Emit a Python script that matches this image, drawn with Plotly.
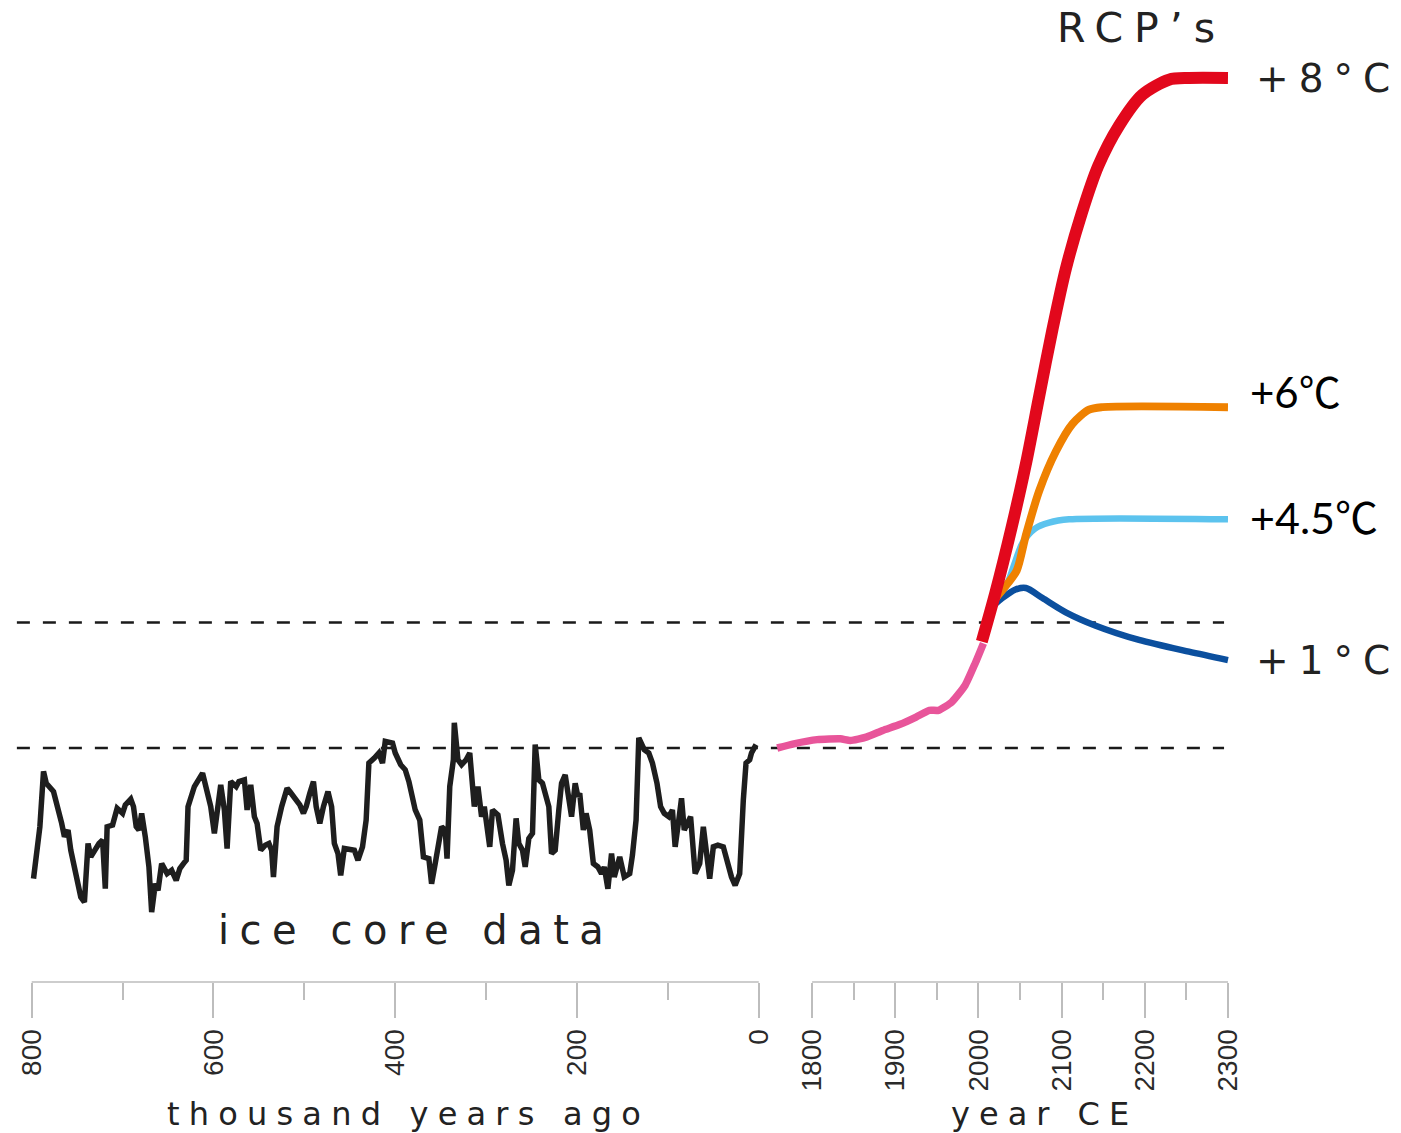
import plotly.graph_objects as go

# ---------------- data ----------------
# ice core record: thousand years ago, temperature anomaly (deg C, relative to pre-industrial)
ice_kyr = [798, 791, 787, 784, 776, 771, 767, 764, 760, 757,
           751, 746, 742, 738, 735, 731, 726, 722, 719, 717,
           711, 706, 700, 697, 691, 688, 685, 682, 679, 675,
           671, 668, 664, 661, 657, 651, 646, 641, 637, 633,
           630, 628, 621, 612, 606, 603, 599, 595, 592, 588,
           585, 581, 575, 572, 566, 563, 559, 555, 552, 548,
           543, 539, 536, 534, 530, 525, 519, 516, 510, 505,
           501, 498, 494, 490, 487, 483, 479, 474, 470, 467,
           463, 460, 456, 450, 445, 441, 436, 432, 429, 423,
           418, 414, 411, 403, 400, 394, 389, 385, 382, 378,
           373, 369, 363, 360, 356, 353, 349, 345, 343, 340,
           336, 335, 331, 327, 322, 318, 316, 313, 309, 305,
           302, 296, 293, 287, 282, 278, 275, 271, 267, 264,
           260, 257, 253, 249, 246, 242, 238, 235, 231, 228,
           224, 220, 217, 213, 210, 206, 202, 199, 197, 193,
           190, 186, 182, 177, 173, 170, 166, 162, 159, 153,
           148, 142, 139, 135, 132, 126, 121, 117, 112, 108,
           104, 99, 95, 92, 88, 85, 82, 75, 70, 65,
           61, 57, 54, 50, 45, 39, 34, 30, 26, 21,
           17, 14, 10, 8, 3]
ice_temp = [-1.56, -0.94, -0.28, -0.42, -0.52, -0.70, -0.90, -1.06, -0.98, -1.22,
            -1.54, -1.78, -1.84, -1.14, -1.30, -1.22, -1.14, -1.10, -1.68, -0.94,
            -0.92, -0.72, -0.78, -0.68, -0.61, -0.70, -0.94, -0.98, -0.78, -1.06,
            -1.42, -1.96, -1.62, -1.70, -1.38, -1.50, -1.46, -1.58, -1.44, -1.38,
            -1.34, -0.70, -0.46, -0.30, -0.54, -0.70, -1.02, -0.66, -0.44, -0.74,
            -1.20, -0.40, -0.46, -0.40, -0.38, -0.74, -0.44, -0.82, -0.90, -1.22,
            -1.16, -1.14, -1.22, -1.54, -0.94, -0.70, -0.48, -0.52, -0.62, -0.68,
            -0.78, -0.70, -0.54, -0.40, -0.70, -0.90, -0.70, -0.52, -0.70, -1.14,
            -1.26, -1.52, -1.20, -1.22, -1.22, -1.34, -1.18, -0.86, -0.18, -0.12,
            -0.06, -0.18, 0.08, 0.06, -0.06, -0.20, -0.26, -0.40, -0.54, -0.74,
            -0.86, -1.30, -1.32, -1.62, -1.38, -1.14, -0.94, -0.98, -1.32, -0.46,
            -0.14, 0.30, -0.14, -0.20, -0.14, -0.06, -0.30, -0.70, -0.46, -0.82,
            -0.70, -1.18, -0.74, -0.80, -1.14, -1.34, -1.64, -1.46, -0.84, -1.14,
            -1.22, -1.42, -1.08, -1.02, 0.04, -0.38, -0.42, -0.54, -0.70, -1.26,
            -1.22, -0.74, -0.42, -0.32, -0.54, -0.82, -0.42, -0.58, -0.54, -0.98,
            -0.78, -0.98, -1.38, -1.42, -1.50, -1.42, -1.68, -1.26, -1.54, -1.30,
            -1.54, -1.50, -1.28, -0.86, 0.12, -0.02, -0.06, -0.18, -0.42, -0.70,
            -0.78, -0.82, -0.74, -1.18, -0.86, -0.60, -0.98, -0.82, -1.50, -1.38,
            -0.94, -1.34, -1.56, -1.18, -1.16, -1.18, -1.42, -1.54, -1.64, -1.50,
            -0.62, -0.18, -0.14, -0.06, 0.04]

# instrumental record (year CE)
hist_year = [1758, 1778, 1806, 1834, 1846, 1865, 1885, 1905, 1925, 1941, 1952, 1968, 1984, 1996, 2006]
hist_temp = [0.00, 0.05, 0.10, 0.11, 0.09, 0.13, 0.21, 0.28, 0.37, 0.45, 0.45, 0.55, 0.75, 1.01, 1.25]

# RCP projections
rcp85_year = [2004, 2020, 2040, 2057, 2073, 2089, 2105, 2124, 2144, 2169, 2197, 2229, 2253, 2300]
rcp85_temp = [1.27, 1.84, 2.64, 3.39, 4.20, 5.00, 5.72, 6.38, 6.95, 7.43, 7.80, 7.98, 8.00, 8.00]
rcp60_year = [2020, 2034, 2046, 2057, 2073, 2093, 2113, 2133, 2149, 2300]
rcp60_temp = [1.78, 1.95, 2.12, 2.54, 3.07, 3.54, 3.87, 4.04, 4.07, 4.07]
rcp45_year = [2020, 2034, 2044, 2053, 2068, 2085, 2109, 2300]
rcp45_temp = [1.78, 1.95, 2.22, 2.45, 2.62, 2.69, 2.73, 2.73]
rcp26_year = [2018, 2030, 2044, 2057, 2077, 2105, 2141, 2193, 2253, 2300]
rcp26_temp = [1.70, 1.80, 1.89, 1.91, 1.79, 1.62, 1.46, 1.29, 1.15, 1.05]

ref_levels = [0.0, 1.5]

left_ticks = [800, 600, 400, 200, 0]
left_minor = [700, 500, 300, 100]
right_ticks = [1800, 1900, 2000, 2100, 2200, 2300]
right_minor = [1850, 1950, 2050, 2150, 2250]

# ---------------- figure ----------------
fig = go.Figure()

fig.add_trace(go.Scatter(x=ice_kyr, y=ice_temp, xaxis="x", yaxis="y", mode="lines",
                         line=dict(color="#1e1e1e", width=5.5), hoverinfo="skip"))
fig.add_trace(go.Scatter(x=hist_year, y=hist_temp, xaxis="x2", yaxis="y", mode="lines",
                         line=dict(color="#e8559a", width=7.5, shape="spline", smoothing=0.5),
                         hoverinfo="skip"))
fig.add_trace(go.Scatter(x=rcp26_year, y=rcp26_temp, xaxis="x2", yaxis="y", mode="lines",
                         line=dict(color="#0b4f9e", width=6.5, shape="spline", smoothing=0.8),
                         hoverinfo="skip"))
fig.add_trace(go.Scatter(x=rcp45_year, y=rcp45_temp, xaxis="x2", yaxis="y", mode="lines",
                         line=dict(color="#5cc3ee", width=6.5, shape="spline", smoothing=0.8),
                         hoverinfo="skip"))
fig.add_trace(go.Scatter(x=rcp60_year, y=rcp60_temp, xaxis="x2", yaxis="y", mode="lines",
                         line=dict(color="#ef8100", width=8, shape="spline", smoothing=0.8),
                         hoverinfo="skip"))
fig.add_trace(go.Scatter(x=rcp85_year, y=rcp85_temp, xaxis="x2", yaxis="y", mode="lines",
                         line=dict(color="#e2081c", width=12, shape="spline", smoothing=0.8),
                         hoverinfo="skip"))

AX_POS = 1 - 982 / 1133
tick_col = "#bdbdbd"
tick_font = dict(family="Liberation Sans, Arial, sans-serif", size=28, color="#2a2a2a")

fig.update_layout(
    width=1401, height=1133,
    margin=dict(l=0, r=0, t=0, b=0),
    paper_bgcolor="white", plot_bgcolor="rgba(0,0,0,0)",
    showlegend=False,
    xaxis=dict(domain=[15.8 / 1401, 765.6 / 1401], range=[810, -5], anchor="free", position=AX_POS,
               showgrid=False, zeroline=False, showline=False,
               tickmode="array", tickvals=left_ticks, ticktext=[str(v) for v in left_ticks],
               ticks="outside", ticklen=35, tickwidth=1.5, tickcolor=tick_col,
               tickangle=-90, tickfont=tick_font,
               minor=dict(tickmode="array", tickvals=left_minor, ticks="outside",
                          ticklen=17, tickwidth=1.5, tickcolor=tick_col)),
    xaxis2=dict(domain=[774.6 / 1401, 1244.4 / 1401], range=[1752, 2310], anchor="free", position=AX_POS,
                showgrid=False, zeroline=False, showline=False,
                tickmode="array", tickvals=right_ticks, ticktext=[str(v) for v in right_ticks],
                ticks="outside", ticklen=35, tickwidth=1.5, tickcolor=tick_col,
                tickangle=-90, tickfont=tick_font,
                minor=dict(tickmode="array", tickvals=right_minor, ticks="outside",
                           ticklen=17, tickwidth=1.5, tickcolor=tick_col)),
    yaxis=dict(domain=[1 - 960 / 1133, 1 - 40 / 1133], range=[-2.5313, 8.4537], visible=False),
)

# axis base lines
fig.add_shape(type="line", xref="x", yref="paper", x0=left_ticks[0], x1=left_ticks[-1],
              y0=AX_POS, y1=AX_POS, line=dict(color=tick_col, width=1.5))
fig.add_shape(type="line", xref="x2", yref="paper", x0=right_ticks[0], x1=right_ticks[-1],
              y0=AX_POS, y1=AX_POS, line=dict(color=tick_col, width=1.5))

# dashed reference lines
for lv in ref_levels:
    fig.add_shape(type="line", xref="paper", yref="y", x0=10 / 1401, x1=1232 / 1401, y0=lv, y1=lv,
                  line=dict(color="#1a1a1a", width=2.5, dash="13px,13px"), layer="below")

sans = "DejaVu Sans, Liberation Sans, sans-serif"
txt = "#222222"
cal = "Lato, Noto Sans CJK SC, sans-serif"


def spaced(s, px):
    return '<span style="letter-spacing:%spx">%s</span>' % (px, s)


ann = [
    dict(text=spaced("RCP’s", 11), x=1148 / 1401, y=1 - 28 / 1133, xref="paper", yref="paper",
         font=dict(family=sans, size=41, color=txt)),
    dict(text=spaced("ice core data", 10.5), x=414 / 1401, y=1 - 930 / 1133, xref="paper", yref="paper",
         font=dict(family=sans, size=40, color=txt)),
    dict(text=spaced("thousand years ago", 9.2), x=406 / 1401, y=1 - 1114 / 1133, xref="paper", yref="paper",
         font=dict(family=sans, size=32, color=txt)),
    dict(text=spaced("year CE", 9), x=1050 / 1401, y=1 - 1114 / 1133, xref="paper", yref="paper",
         font=dict(family=sans, size=32, color=txt)),
    dict(text=spaced("+8°C", 10), x=1262 / 1401, y=8.0, xref="paper", yref="y", xanchor="left",
         font=dict(family=sans, size=39, color=txt)),
    dict(text=spaced("+1°C", 10), x=1262 / 1401, y=1.05, xref="paper", yref="y", xanchor="left",
         font=dict(family=sans, size=39, color=txt)),
    dict(text="+6℃", x=1256 / 1401, y=4.25, xref="paper", yref="y", xanchor="left",
         font=dict(family=cal, size=42, color="#000000")),
    dict(text="+4.5℃", x=1256 / 1401, y=2.75, xref="paper", yref="y", xanchor="left",
         font=dict(family=cal, size=43, color="#000000")),
]
for a in ann:
    a.setdefault("xanchor", "center")
    a["yanchor"] = "middle"
    a["showarrow"] = False
    fig.add_annotation(**a)

fig.write_html("out.html")
